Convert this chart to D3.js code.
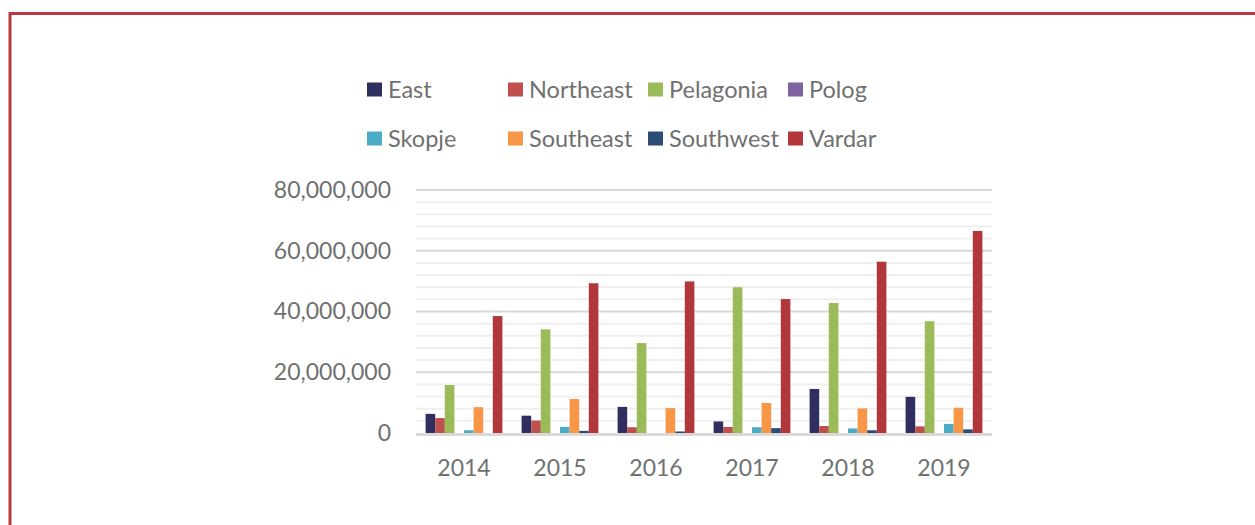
<!DOCTYPE html>
<html>
<head>
<meta charset="utf-8">
<script src="https://cdn.jsdelivr.net/npm/d3@7"></script>
<style>
    html, body { margin: 0; padding: 0; background: #fff; overflow: hidden; }
    text { font-family: Lato, "Open Sans", sans-serif; fill: #707070; }
</style>
</head>
<body>
<div id="chart"></div>
<script>
// Data
const years = ['2014', '2015', '2016', '2017', '2018', '2019'];
const regions = ['East', 'Northeast', 'Pelagonia', 'Polog', 'Skopje', 'Southeast', 'Southwest', 'Vardar'];
const regionColors = ['#2e2f5f', '#c0504d', '#9bbb59', '#8064a2', '#4bacc6', '#f79646', '#2c4d75', '#b3373a'];

const east      = [6.3e6, 5.7e6, 8.6e6, 3.8e6, 14.5e6, 11.9e6];
const northeast = [4.9e6, 4.1e6, 1.9e6, 2.0e6, 2.3e6, 2.2e6];
const pelagonia = [15.8e6, 34.1e6, 29.6e6, 48.0e6, 42.8e6, 36.8e6];
const polog     = [0, 0, 0, 0, 0, 0];
const skopje    = [0.9e6, 2.0e6, 0, 1.9e6, 1.5e6, 3.0e6];
const southeast = [8.5e6, 11.2e6, 8.2e6, 9.9e6, 8.1e6, 8.3e6];
const southwest = [0, 0.7e6, 0.5e6, 1.6e6, 0.9e6, 1.2e6];
const vardar    = [38.5e6, 49.3e6, 49.9e6, 44.1e6, 56.4e6, 66.5e6];

const seriesValues = [east, northeast, pelagonia, polog, skopje, southeast, southwest, vardar];
const yTicks = [0, 20e6, 40e6, 60e6, 80e6];

const width = 1255;
const height = 525;

const svg = d3.select('#chart')
    .append('svg')
    .attr('width', width)
    .attr('height', height);

// Outer frame (runs off the right and bottom edges)
svg.append('rect')
    .attr('x', 10)
    .attr('y', 13.5)
    .attr('width', 1300)
    .attr('height', 600)
    .attr('fill', 'none')
    .attr('stroke', '#b83a3d')
    .attr('stroke-width', 3);

const x = d3.scaleBand()
    .domain(years)
    .range([416, 992]);

const xInner = d3.scaleBand()
    .domain(regions)
    .range([0, x.bandwidth()])
    .paddingInner(0)
    .paddingOuter(1);

const y = d3.scaleLinear()
    .domain([0, 80e6])
    .range([433, 190]);

// Minor gridlines
const minor = d3.range(4e6, 80e6, 4e6).filter(v => v % 20e6 !== 0);
svg.append('g')
    .selectAll('line')
    .data(minor)
    .enter().append('line')
    .attr('x1', 416)
    .attr('x2', 992)
    .attr('y1', d => y(d))
    .attr('y2', d => y(d))
    .attr('stroke', '#efefef')
    .attr('stroke-width', 2);

// Major gridlines
svg.append('g')
    .selectAll('line')
    .data(yTicks.filter(v => v > 0))
    .enter().append('line')
    .attr('x1', 416)
    .attr('x2', 992)
    .attr('y1', d => y(d))
    .attr('y2', d => y(d))
    .attr('stroke', '#d9d9d9')
    .attr('stroke-width', 2);

// Bars
const rows = [];
years.forEach((yr, i) => {
    regions.forEach((r, j) => {
        rows.push({ year: yr, region: r, value: seriesValues[j][i], color: regionColors[j] });
    });
});

svg.append('g')
    .selectAll('rect')
    .data(rows.filter(d => d.value > 0))
    .enter().append('rect')
    .attr('x', d => x(d.year) + xInner(d.region))
    .attr('y', d => y(d.value))
    .attr('width', xInner.bandwidth())
    .attr('height', d => y(0) - y(d.value))
    .attr('fill', d => d.color);

// Baseline
svg.append('line')
    .attr('x1', 416)
    .attr('x2', 992)
    .attr('y1', y(0) + 1.5)
    .attr('y2', y(0) + 1.5)
    .attr('stroke', '#d9d9d9')
    .attr('stroke-width', 3);

// Y axis labels
const fmt = d3.format(',');
const yAxis = d3.axisLeft(y).tickValues(yTicks).tickFormat(fmt).tickSize(0).tickPadding(25);
const yg = svg.append('g')
    .attr('transform', 'translate(416,0)')
    .call(yAxis);
yg.select('.domain').remove();
yg.selectAll('text')
    .attr('font-size', 23)
    .attr('font-family', 'Lato, sans-serif')
    .attr('fill', '#707070');

// X axis labels
const xAxis = d3.axisBottom(x).tickSize(0).tickPadding(27);
const xg = svg.append('g')
    .attr('transform', `translate(0,${y(0)})`)
    .call(xAxis);
xg.select('.domain').remove();
xg.selectAll('text')
    .attr('font-size', 23)
    .attr('font-family', 'Lato, sans-serif')
    .attr('fill', '#707070');

// Legend, 2 rows of 4
const legendCols = [367, 508, 648, 788];
const legendRows = [89.5, 138.5];
const legend = svg.append('g')
    .selectAll('g')
    .data(regions)
    .enter().append('g')
    .attr('transform', (d, i) => `translate(${legendCols[i % 4]},${legendRows[Math.floor(i / 4)]})`);

legend.append('rect')
    .attr('x', 0)
    .attr('y', -7)
    .attr('width', 15)
    .attr('height', 14)
    .attr('fill', (d, i) => regionColors[i]);

legend.append('text')
    .attr('x', 21)
    .attr('dy', '0.35em')
    .attr('font-size', 23.5)
    .text(d => d);
</script>
</body>
</html>
